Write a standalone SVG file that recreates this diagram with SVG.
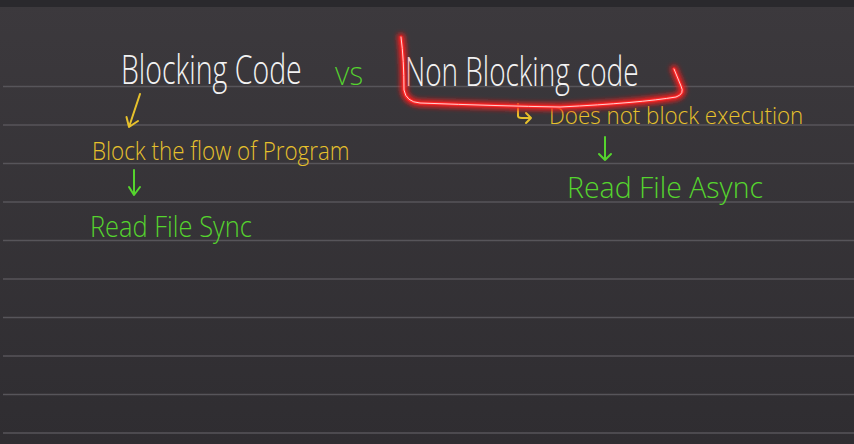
<svg xmlns="http://www.w3.org/2000/svg" width="854" height="444" viewBox="0 0 854 444">
<defs>
<linearGradient id="bg" x1="0" y1="0" x2="0" y2="1">
<stop offset="0" stop-color="#3c393d"/>
<stop offset="1" stop-color="#2f2d31"/>
</linearGradient>
<filter id="glow" x="-10%" y="-30%" width="120%" height="160%">
<feGaussianBlur stdDeviation="2.5"/>
</filter>
<path id="br" d="M401 37 Q404 60 404 90 Q406 102 420 103 Q500 106 560 107 Q640 103 676 97 Q685 94 681 86 L674 69"/>
</defs>
<style>
.rule{stroke:#57555a;stroke-width:1.6}
.t{font-family:"Open Sans","Liberation Sans",sans-serif;font-weight:300}
.w{fill:#f2f2f2}
.y{fill:#e7c12c}
.g{fill:#55d42e}
.ay{stroke:#e7c12c;stroke-width:2;fill:none;stroke-linecap:round;stroke-linejoin:round}
.ag{stroke:#55d42e;stroke-width:2;fill:none;stroke-linecap:round;stroke-linejoin:round}
</style>
<rect width="854" height="444" fill="url(#bg)"/>
<rect width="854" height="7" fill="#2a292d"/>
<g id="rules">
<line class="rule" x1="3" y1="86.5" x2="854" y2="86.5"/>
<line class="rule" x1="3" y1="125" x2="854" y2="125"/>
<line class="rule" x1="3" y1="163.5" x2="854" y2="163.5"/>
<line class="rule" x1="3" y1="202" x2="854" y2="202"/>
<line class="rule" x1="3" y1="240.5" x2="854" y2="240.5"/>
<line class="rule" x1="3" y1="279" x2="854" y2="279"/>
<line class="rule" x1="3" y1="317.5" x2="854" y2="317.5"/>
<line class="rule" x1="3" y1="356" x2="854" y2="356"/>
<line class="rule" x1="3" y1="394.5" x2="854" y2="394.5"/>
<line class="rule" x1="3" y1="433" x2="854" y2="433"/>
</g>
<g id="blocking">
<text class="t w" transform="translate(121,84) scale(0.75,1)" font-size="40" textLength="241" lengthAdjust="spacingAndGlyphs">Blocking Code</text>
</g>
<g id="vs">
<text class="t g" x="335" y="85" font-size="25" textLength="28" lengthAdjust="spacingAndGlyphs">VS</text>
</g>
<g id="nonblocking">
<text class="t w" transform="translate(405,86) scale(0.73,1)" font-size="40" textLength="320" lengthAdjust="spacingAndGlyphs">Non Blocking code</text>
</g>
<g id="block-flow">
<text class="t y" transform="translate(92,160) scale(0.85,1)" font-size="26" textLength="303" lengthAdjust="spacingAndGlyphs">Block the flow of Program</text>
</g>
<g id="read-sync">
<text class="t g" transform="translate(90,237) scale(0.87,1)" font-size="30" textLength="186" lengthAdjust="spacingAndGlyphs">Read File Sync</text>
</g>
<g id="does-not">
<text class="t y" transform="translate(549,124) scale(0.88,1)" font-size="24" textLength="289" lengthAdjust="spacingAndGlyphs">Does not block execution</text>
</g>
<g id="read-async">
<text class="t g" x="567" y="198" font-size="29" textLength="196" lengthAdjust="spacingAndGlyphs">Read File Async</text>
</g>
<g id="connectors">
<path class="ay" d="M140 94 L129 127 M126.5 117 L129 127 L138 121"/>
<path class="ag" d="M134 170 L134 195 M129 187 L134 195 L140 187"/>
<path class="ay" d="M518 104 L518 116 Q518 118 522 118 L531 118 M526 113 L531 118 L526 123"/>
<path class="ag" d="M605 137 L605 160 M599 154 L605 160 L611 154"/>
<g id="bracket" fill="none" stroke-linecap="round" stroke-linejoin="round">
<use href="#br" stroke="#ff1a1a" stroke-width="7" filter="url(#glow)"/>
<use href="#br" stroke="#ff2a2a" stroke-width="3"/>
<use href="#br" stroke="#ffd0d0" stroke-width="1"/>
</g>
</g>
</svg>
